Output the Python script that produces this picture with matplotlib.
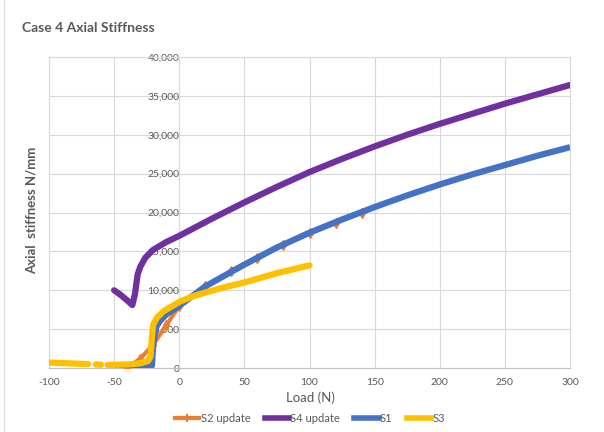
import matplotlib
matplotlib.use("Agg")
import matplotlib.pyplot as plt
from matplotlib.ticker import FuncFormatter, MultipleLocator
from matplotlib.lines import Line2D

plt.rcParams["font.family"] = ["Lato", "DejaVu Sans"]
plt.rcParams["axes.unicode_minus"] = False

# series
s2_x = [-40, -30, -20, -10, 0, 20, 40, 60, 80, 100, 120, 140]
s2_y = [0, 1200, 3000, 5500, 8000, 10500, 12500, 14200, 15800, 17300, 18700, 20000]

s4_x = [-50, -45, -40, -36, -34, -32, -30, -26, -20, -10, 0, 25, 50, 75, 100, 125, 150,
        175, 200, 225, 250, 275, 300]
s4_y = [10000, 9400, 8700, 8100, 9500, 12000, 13000, 14200, 15200, 16200, 17000, 19200, 21300,
        23300, 25200, 26900, 28500, 30000, 31400, 32700, 34000, 35200, 36400]

s1_x = [-50, -30, -21, -20, -18, -15, -10, 0, 20, 50, 75, 100, 125, 150, 175, 200, 225, 250, 275, 300]
s1_y = [100, 150, 300, 3000, 5200, 6000, 6900, 8000, 10500, 13300, 15500, 17400, 19100, 20700,
        22200, 23600, 24900, 26100, 27300, 28400]

s3_segments = [
    ([-100, -85, -70], [700, 600, 500]),
    ([-64, -60], [450, 420]),
    ([-55, -40, -30, -24, -22, -21, -20, -17, -12, -5, 0, 10, 20, 35, 50, 75, 100],
     [400, 450, 600, 900, 1500, 4000, 5600, 6500, 7300, 8000, 8500, 9200, 9700, 10400, 11000, 12200, 13200]),
]

x_ticks = [-100, -50, 0, 50, 100, 150, 200, 250, 300]

c_s2 = "#ED7D31"
c_s4 = "#7030A0"
c_s1 = "#4472C4"
c_s3 = "#FFC000"
grid_c = "#D9D9D9"
text_c = "#595959"

fig = plt.figure(figsize=(6.04, 4.32), dpi=100)
ax = fig.add_axes([49 / 604, 64 / 432, 521 / 604, 311 / 432])

ax.plot(s2_x, s2_y, color=c_s2, lw=3, marker="d", ms=5.5, zorder=3)
ax.plot(s4_x, s4_y, color=c_s4, lw=4.5, solid_capstyle="round", solid_joinstyle="round", zorder=3)
ax.plot(s1_x, s1_y, color=c_s1, lw=4.5, solid_capstyle="butt", solid_joinstyle="round", zorder=4)
for sx, sy in s3_segments:
    ax.plot(sx, sy, color=c_s3, lw=4.5, solid_capstyle="round", solid_joinstyle="round", zorder=5)

ax.set_xlim(-100, 300)
ax.set_ylim(0, 40000)
ax.set_xticks(x_ticks)
ax.yaxis.set_major_locator(MultipleLocator(5000))
ax.yaxis.set_major_formatter(FuncFormatter(lambda v, p: f"{int(v):,}"))

ax.grid(True, color=grid_c, lw=0.8)
ax.set_axisbelow(True)
for side in ["top", "right", "left"]:
    ax.spines[side].set_color(grid_c)
    ax.spines[side].set_linewidth(0.8)
ax.spines["bottom"].set_color("#BFBFBF")
ax.spines["bottom"].set_linewidth(0.8)

ax.tick_params(axis="both", length=0, labelsize=7.5, labelcolor=text_c)
ax.tick_params(axis="x", pad=7)
ax.tick_params(axis="y", pad=0)
# y tick labels sit next to x = 0 like the reference
ax.spines["left"].set_position(("data", 0))
ax.plot([-100, -100], [0, 40000], color=grid_c, lw=0.8, zorder=1, clip_on=False)

fig.text(32 / 604, 1 - 210 / 432, "Axial  stiffness N/mm", rotation=90, ha="center", va="center",
         fontsize=9.5, fontweight="bold", color=text_c)
fig.text(310 / 604, 1 - 398 / 432, "Load (N)", ha="center", va="center", fontsize=9.5, color=text_c)
fig.text(22 / 604, 1 - 28 / 432, "Case 4 Axial Stiffness", ha="left", va="center",
         fontsize=10, fontweight="bold", color=text_c)

handles = [
    Line2D([], [], color=c_s2, lw=3, marker="|", ms=6, mew=1.5),
    Line2D([], [], color=c_s4, lw=4),
    Line2D([], [], color=c_s1, lw=4),
    Line2D([], [], color=c_s3, lw=4),
]
fig.legend(handles, ["S2 update", "S4 update", "S1", "S3"], loc="center", ncol=4,
           bbox_to_anchor=(310 / 604, 1 - 418 / 432), frameon=False, fontsize=8,
           handlelength=2.2, handletextpad=0.1, columnspacing=1.3, labelcolor=text_c)

fig.add_artist(Line2D([4 / 604, 4 / 604], [0, 1], color="#D9D9D9", lw=0.8))

fig.savefig("out.png", dpi=100)
